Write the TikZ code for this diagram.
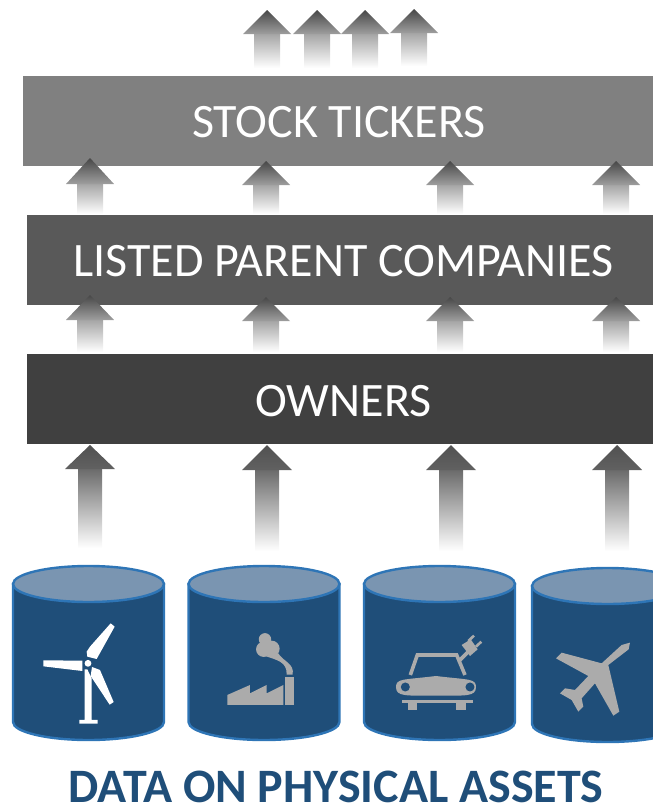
\documentclass[tikz,border=0pt]{standalone}
\usepackage{fontspec}
\setmainfont{Carlito}
\definecolor{assetblue}{HTML}{1F4E79}
\definecolor{assetedge}{HTML}{2E75B6}
\definecolor{assettop}{HTML}{7A95B1}
\definecolor{icongray}{HTML}{ABABAB}
\tikzstyle{layerbar}=[draw=none,minimum height=90pt,inner sep=0pt,text=white]
\tikzstyle{layertext}=[text=white,inner sep=0pt,anchor=base,font=\fontsize{48}{48}\selectfont]
\tikzstyle{softhead}=[top color=black!72,bottom color=black!38,draw=none]
\tikzstyle{softshaft}=[top color=black!35,bottom color=white,draw=none]
\tikzstyle{darkhead}=[top color=black!68,bottom color=black!62,draw=none]
\tikzstyle{darkshaft}=[top color=black!58,bottom color=white,draw=none]
\tikzstyle{drum}=[fill=assetblue,draw=assetedge,line width=2.4pt]
\tikzstyle{drumtop}=[fill=assettop,draw=assetedge,line width=2.4pt]
\tikzstyle{icon}=[fill=icongray,draw=none]
\tikzstyle{whiteicon}=[fill=white,draw=none]
\begin{document}
\begin{tikzpicture}[x=1pt,y=-1pt]

\useasboundingbox (0,0) rectangle (653,806);
\clip (0,0) rectangle (653,806);

% layers
\node[layerbar,fill=black!50,minimum width=630pt] (tickers) at (338,121) {};
\node[layerbar,fill=black!65,minimum width=632pt] (parents) at (343,260) {};
\node[layerbar,fill=black!75,minimum width=632pt] (owners) at (343,399) {};
\node[layertext] (tickerstext) at (339,137) {STOCK TICKERS};
\node[layertext] (parentstext) at (343.5,276) {LISTED PARENT COMPANIES};
\node[layertext] (ownerstext) at (343.5,416) {OWNERS};

% arrows: centre / tip / barb / tail
\foreach \xc/\tip/\barb/\tail in {267/10/34/68, 317/10/34/68, 365/10/34/68, 414/9/33/66,
    90/158/184/214, 266/161/185/214, 450/161/185/214, 616/161/185/214,
    90/295/320/352, 266/297/321/352, 450/297/321/352, 616/297/321/352} {
    \path[softshaft] (\xc-13,\barb) rectangle (\xc+13,\tail);
    \path[softhead] (\xc,\tip) -- (\xc+24,\barb) -- (\xc-24,\barb) -- cycle;
}
\foreach \xc/\tip/\barb/\tail in {90/445/469/548, 267/445/470/551, 451/445/470/551, 617/445/470/551} {
    \path[darkshaft] (\xc-12,\barb) rectangle (\xc+12,\tail);
    \path[darkhead] (\xc,\tip) -- (\xc+25,\barb) -- (\xc-25,\barb) -- cycle;
}

% drums
\foreach \xl/\yt in {13/584, 188.5/584, 364/584, 532/586} {
    \path[drum] (\xl,\yt) -- (\xl,\yt+138) arc[start angle=180,end angle=0,x radius=75.5pt,y radius=-18pt] -- (\xl+151,\yt) -- cycle;
    \path[drumtop] (\xl+75.5,\yt) ellipse[x radius=75.5pt,y radius=18pt];
}

% wind turbine
\begin{scope}[shift={(0,550)},x=0.3333pt,y=-0.3333pt]
    \path[whiteicon] (254,358) -- (262,358) -- (275,385) -- (275,510) -- (293,510) -- (293,521) -- (238,521) -- (238,510) -- (254,510) -- cycle;
    \path[whiteicon] (264,340) circle[radius=3.4pt];
    \path[whiteicon] (260,305) -- (270,290) -- (332,220) -- (344,230) -- (290,327) -- (262,320) -- cycle;
    \path[whiteicon] (130,331) -- (247,332) -- (247,363) -- (130,349) -- cycle;
    \path[whiteicon] (276,351) -- (300,360) -- (341,456) -- (329,464) -- (272,378) -- cycle;
\end{scope}

% factory
\begin{scope}[shift={(0,550)},x=0.3333pt,y=-0.3333pt]
    \path[icon] (682,465) -- (682,435) -- (750,405) -- (750,430) -- (800,405) -- (800,430) -- (850,405) -- (850,465) -- cycle;
    \path[icon] (855,382) rectangle (882,465);
    \path[icon] (795,268) circle[radius=6.2pt];
    \path[icon] (791,298) circle[radius=7.6pt];
    \path[icon] (815,296) circle[radius=8pt];
    \path[icon] (860,374) -- (878,374) .. controls (884,340) and (850,335) .. (835,310)
        -- (795,318) .. controls (830,330) and (862,335) .. cycle;
\end{scope}

% car
\begin{scope}[shift={(340,550)},x=0.3333pt,y=-0.3333pt]
    \draw[icongray,line width=3.6pt] (211,375) -- (232,315) -- (350,315) -- (375,375);
    \draw[icongray,line width=3.6pt] (355,335) -- (385,305);
    \path[icon] (168,411) .. controls (168,385) and (190,390) .. (288,378)
        .. controls (386,390) and (408,385) .. (408,411)
        .. controls (408,440) and (380,437) .. (288,437)
        .. controls (196,437) and (168,440) .. (168,411) -- cycle;
    \path[fill=assetblue] (196,411) circle[radius=4.5pt];
    \path[fill=assetblue] (390,411) circle[radius=4.5pt];
    \path[icon] (186,451) rectangle (400,460);
    \path[icon] (203,460) rectangle (232,480);
    \path[icon] (348,460) rectangle (378,480);
    \path[icon] (365,285) -- (392,268) -- (413,298) -- (390,318) -- cycle;
    \draw[icongray,line width=2.6pt] (385,273) -- (402,257);
    \draw[icongray,line width=2.6pt] (408,290) -- (424,275);
\end{scope}

% plane
\begin{scope}[shift={(340,550)},x=0.3333pt,y=-0.3333pt]
    \path[icon] (870,278) -- (866,298) -- (805,345) -- (838,485) -- (820,497) -- (765,400) -- (725,445) -- (730,470) -- (715,485) -- (695,450) -- (660,430) -- (675,415) -- (705,420) -- (745,378) -- (648,325) -- (665,308) -- (785,340) -- (845,285) -- cycle;
\end{scope}

\node[text=assetblue,font=\fontsize{48}{48}\selectfont\bfseries,inner sep=0pt,anchor=base] (assets) at (336,802.5) {DATA ON PHYSICAL ASSETS};

\end{tikzpicture}
\end{document}
